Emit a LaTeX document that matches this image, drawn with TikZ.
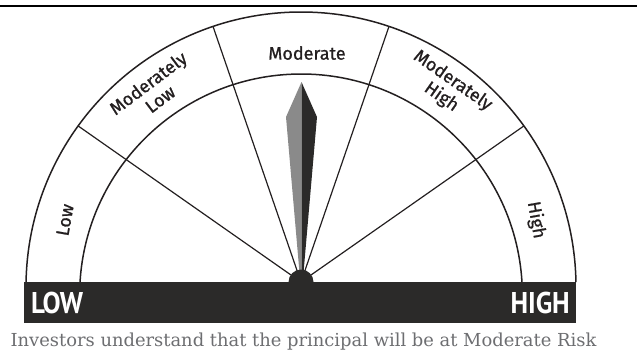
\documentclass[tikz,border=0pt]{standalone}
\usepackage{graphicx}
\usepackage{fontspec}
\setmainfont{DejaVu Serif}
\newfontfamily\lbl[FakeBold=0.9]{Fira Sans}
\newfontfamily\lblb{PT Sans Bold}
\definecolor{ink}{HTML}{231F20}
\definecolor{bar}{HTML}{2B2A29}
\definecolor{needleL}{HTML}{8A8A8A}
\definecolor{capgray}{HTML}{6D6E71}
\tikzset{
  arcline/.style={draw=ink,line width=1.5pt},
  divline/.style={draw=ink,line width=1.2pt},
  seglabel/.style={text=ink,font=\lbl\fontsize{18}{20}\selectfont,align=center,inner sep=0pt},
  endlabel/.style={text=white,font=\lblb\fontsize{30}{30}\selectfont,inner sep=0pt},
}
\begin{document}
\begin{tikzpicture}[x=1pt,y=1pt]
\useasboundingbox (0,0) rectangle (637,349);
% top rule
\coordinate (rl) at (0,343);
\coordinate (rr) at (637,343);
\draw[line width=2.6pt,black] (rl) -- (rr);
% hub and circle centres
\coordinate (hub) at (301,67);
\coordinate (oc) at (301,62);
\coordinate (ic) at (301,53.6);
% dividers clipped to the outer circle
\begin{scope}
  \clip (oc) circle (275);
  \foreach \a in {35,71,109,145}{
    \draw[divline] (hub) -- ++(\a:320);
  }
\end{scope}
% arcs
\draw[arcline] (oc) ++(1.04:275) arc[start angle=1.04,end angle=178.96,radius=275];
\draw[arcline] (ic) ++(3.47:221.4) arc[start angle=3.47,end angle=176.53,radius=221.4];
% needle
\coordinate (tip) at (301.5,267);
\fill[needleL] (tip) -- (286,232) -- (300.3,67) -- (301.5,67) -- cycle;
\fill[bar] (tip) -- (317,232) -- (302.7,67) -- (301.5,67) -- cycle;
% bar and hub
\fill[bar] (24,26) rectangle (576,67);
\fill[bar] (hub) circle (12.5);
% labels
\node[seglabel] (lmod) at (307,296) {Moderate};
\node[seglabel,rotate=37] (lml) at (154,258) {Moderately\\Low};
\node[seglabel,rotate=-35] (lmh) at (447,260) {Moderately\\High};
\node[seglabel,rotate=80] (llow) at (65,129) {Low};
\node[seglabel,rotate=-80] (lhigh) at (536,129) {High};
\node[endlabel,anchor=west] (lo) at (31,46.5) {\scalebox{0.9}[1]{LOW}};
\node[endlabel,anchor=east] (hi) at (570,46.5) {\scalebox{0.9}[1]{HIGH}};
% caption
\node[text=capgray,font=\fontsize{17.9}{18}\selectfont,anchor=base,inner sep=0pt] (cap) at (303.5,2.5) {Investors understand that the principal will be at Moderate Risk};
\end{tikzpicture}
\end{document}
